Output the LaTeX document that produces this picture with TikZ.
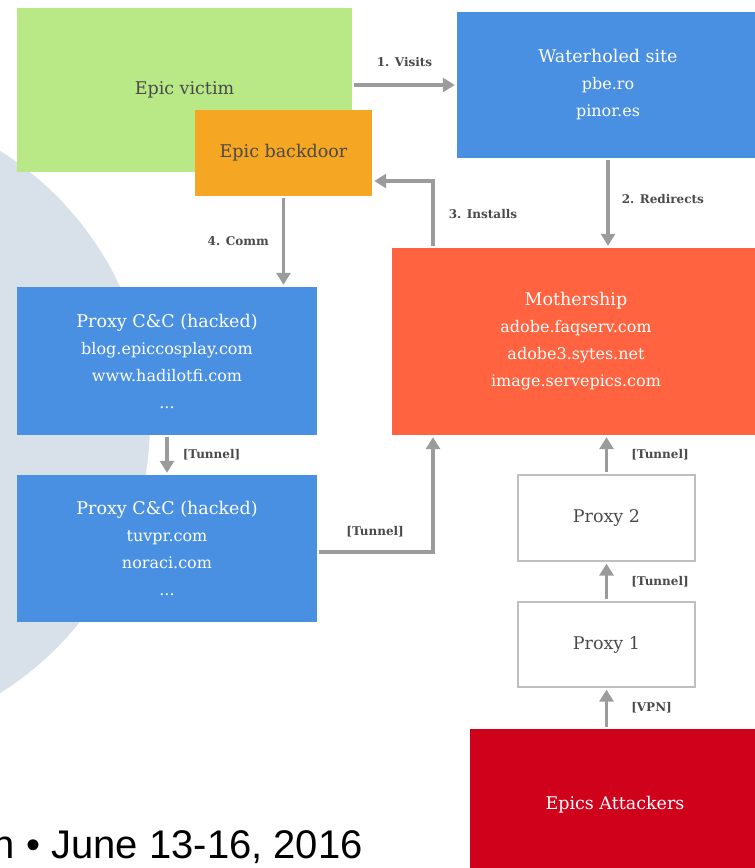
\documentclass[tikz,border=0pt]{standalone}
\usepackage{fontspec}
\setmainfont{DejaVu Serif}
\newfontfamily\datefont{Liberation Sans}
\usetikzlibrary{positioning,arrows.meta}
\definecolor{victimgreen}{HTML}{B8E986}
\definecolor{doororange}{HTML}{F5A623}
\definecolor{siteblue}{HTML}{4A90E2}
\definecolor{shipcoral}{HTML}{FF6340}
\definecolor{attackred}{HTML}{D0021B}
\definecolor{darktext}{HTML}{4A4A4A}
\definecolor{arrowgray}{HTML}{9B9B9B}
\definecolor{circleblue}{HTML}{D8E0EA}
\newcommand\boxhead[1]{{\fontsize{17.5}{27}\selectfont #1}}
\begin{document}
\begin{tikzpicture}[x=1pt, y=-1pt, >={Triangle[length=12pt,width=14pt]},
  box/.style={inner sep=0pt, align=center, font=\fontsize{16}{27}\selectfont},
  flow/.style={->, arrowgray, line width=3.5pt, shorten >=2pt, shorten <=2pt},
  lbl/.style={inner sep=0pt, font=\fontsize{12}{14}\selectfont\bfseries, text=darktext}]
\useasboundingbox (0,0) rectangle (755,868);
\fill[circleblue] (-170,422) circle[radius=320];
\node[box, fill=victimgreen, text=darktext, minimum width=335pt, minimum height=164pt] (victim) at (184.5,90) {\boxhead{Epic victim}};
\node[box, fill=doororange, text=darktext, minimum width=177pt, minimum height=86pt] (backdoor) at (283.5,153) {\boxhead{Epic backdoor}};
\node[box, fill=siteblue, text=white, minimum width=302pt, minimum height=146pt] (site) at (608,85) {\boxhead{Waterholed site}\\pbe.ro\\pinor.es};
\node[box, fill=shipcoral, text=white, minimum width=368pt, minimum height=187pt] (ship) at (576,341.5) {\boxhead{Mothership}\\adobe.faqserv.com\\adobe3.sytes.net\\image.servepics.com};
\node[box, fill=siteblue, text=white, minimum width=300pt, minimum height=148pt] (ccone) at (167,361) {\boxhead{Proxy C\&C (hacked)}\\blog.epiccosplay.com\\www.hadilotfi.com\\...};
\node[box, fill=siteblue, text=white, minimum width=300pt, minimum height=147pt] (cctwo) at (167,548.5) {\boxhead{Proxy C\&C (hacked)}\\tuvpr.com\\noraci.com\\...};
\node[box, draw=black!25, line width=1.2pt, fill=white, text=darktext, minimum width=177pt, minimum height=86pt] (proxytwo) at (606.5,518) {\boxhead{Proxy 2}};
\node[box, draw=black!25, line width=1.2pt, fill=white, text=darktext, minimum width=177pt, minimum height=85pt] (proxyone) at (606.5,644.5) {\boxhead{Proxy 1}};
\node[box, fill=attackred, text=white, minimum width=290pt, minimum height=152pt] (attackers) at (615,805) {\boxhead{Epics Attackers}};
\node[anchor=base east, inner sep=0pt, font=\datefont\fontsize{40}{48}\selectfont] (date) at (363,858) {n • June 13-16, 2016};
\coordinate (installbend) at (433,181);
\coordinate (tunnelbend) at (433,552);
\draw[flow] (victim.east |- site.west) -- node[lbl, above=17pt] {1. Visits} (site.west);
\draw[flow] (site) -- node[lbl, right=12pt, yshift=4pt] {2. Redirects} (site |- ship.north);
\draw[flow] (ship.north -| installbend) |- node[lbl, pos=0.25, right=14pt] {3. Installs} (backdoor.east |- installbend);
\draw[flow] (backdoor) -- node[lbl, left=13pt] {4. Comm} (backdoor |- ccone.north);
\draw[flow] (ccone) -- node[lbl, right=14pt] {[Tunnel]} (cctwo);
\draw[flow] (cctwo.east |- tunnelbend) -| node[lbl, pos=0.25, above=13pt] {[Tunnel]} (ship.south -| tunnelbend);
\draw[flow] (proxytwo) -- node[lbl, right=23pt] {[Tunnel]} (proxytwo |- ship.south);
\draw[flow] (proxyone) -- node[lbl, right=23pt] {[Tunnel]} (proxytwo);
\draw[flow] (attackers.north -| proxyone) -- node[lbl, right=23pt] {[VPN]} (proxyone);
\end{tikzpicture}
\end{document}
